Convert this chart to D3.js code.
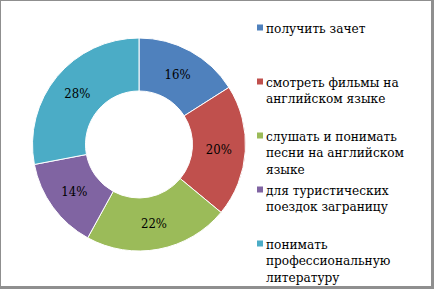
<!DOCTYPE html>
<html>
<head>
<meta charset="utf-8">
<script src="https://cdnjs.cloudflare.com/ajax/libs/d3/7.8.5/d3.min.js"></script>
<style>
  body { margin: 0; background: #fff; }
</style>
</head>
<body>
<div id="chart"></div>
<script>
var categories = ["получить зачет",
                  "смотреть фильмы на английском языке",
                  "слушать и понимать песни на английском языке",
                  "для туристических поездок заграницу",
                  "понимать профессиональную литературу"];
var legendLines = [["получить зачет"],
                   ["смотреть фильмы на", "английском языке"],
                   ["слушать и понимать", "песни на английском", "языке"],
                   ["для туристических", "поездок заграницу"],
                   ["понимать", "профессиональную", "литературу"]];
var values = [16, 20, 22, 14, 28];
var colors = ["#4F81BD", "#C0504D", "#9BBB59", "#8064A2", "#4BACC6"];

var serif = "'DejaVu Serif Condensed', 'DejaVu Serif', serif";

var W = 434, H = 289;
var svg = d3.select("#chart").append("svg")
    .attr("width", W)
    .attr("height", H);

// frame
svg.append("rect").attr("x", 0).attr("y", 0).attr("width", W).attr("height", H).attr("fill", "#8f8f8f");
svg.append("rect").attr("x", 1).attr("y", 1).attr("width", W - 4).attr("height", H - 4).attr("fill", "#fff");

var cx = 139, cy = 144.5, outerR = 106.5, innerR = 53.5;

var pie = d3.pie().sort(null).value(function(d) { return d; });
var arc = d3.arc().innerRadius(innerR).outerRadius(outerR);
var labelArc = d3.arc().innerRadius(80).outerRadius(80);

var g = svg.append("g").attr("transform", "translate(" + cx + "," + cy + ")");

var slices = g.selectAll("g.slice")
    .data(pie(values))
    .enter().append("g")
    .attr("class", "slice");

slices.append("path")
    .attr("d", arc)
    .attr("fill", function(d, i) { return colors[i]; })
    .attr("stroke", "#fff")
    .attr("stroke-width", 1);

slices.append("text")
    .attr("transform", function(d) { return "translate(" + labelArc.centroid(d) + ")"; })
    .attr("text-anchor", "middle")
    .attr("dy", "0.35em")
    .attr("font-family", serif)
    .attr("font-size", "13px")
    .text(function(d) { return d.data + "%"; });

// legend
var legendY = d3.scalePoint()
    .domain(categories)
    .range([28, 244]);

var legend = svg.append("g")
    .selectAll("g")
    .data(categories)
    .enter().append("g")
    .attr("transform", function(d) { return "translate(257," + legendY(d) + ")"; });

legend.append("rect")
    .attr("x", 0)
    .attr("y", -3.5)
    .attr("width", 6)
    .attr("height", 6)
    .attr("fill", function(d, i) { return colors[i]; });

legend.append("text")
    .attr("font-family", serif)
    .attr("font-size", "13.5px")
    .selectAll("tspan")
    .data(function(d, i) { return legendLines[i]; })
    .enter().append("tspan")
    .attr("x", 9)
    .attr("y", function(d, j) { return j * 16.5; })
    .attr("dy", "0.35em")
    .text(function(d) { return d; });
</script>
</body>
</html>
